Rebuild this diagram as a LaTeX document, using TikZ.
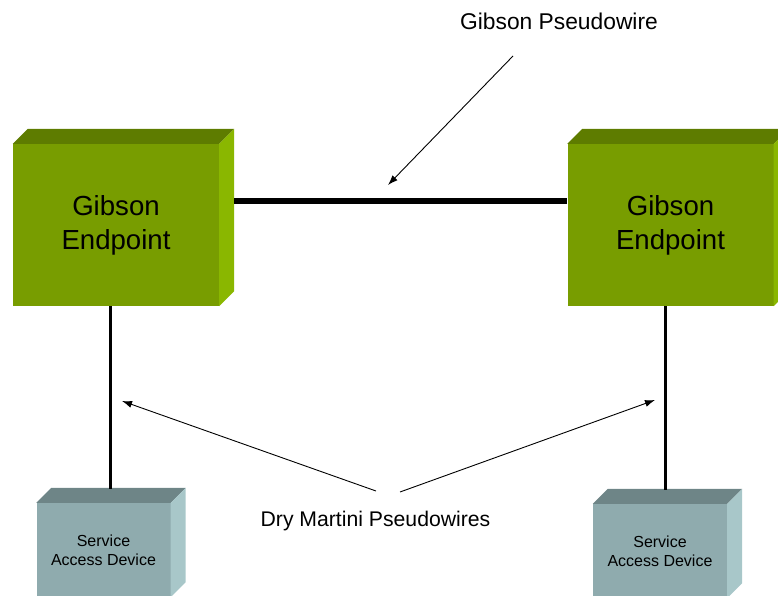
\documentclass[tikz,border=0pt]{standalone}
\usepackage{fontspec}
\setmainfont{Liberation Sans}
\usetikzlibrary{calc,arrows.meta}
\definecolor{epfront}{RGB}{120,157,0}
\definecolor{eptop}{RGB}{94,124,0}
\definecolor{epside}{RGB}{138,183,0}
\definecolor{sdfront}{RGB}{143,171,174}
\definecolor{sdtop}{RGB}{110,133,135}
\definecolor{sdside}{RGB}{168,199,201}
% top and right faces of a box node
\def\boxfaces#1#2#3{%
  \fill[#2] (#1.north west) -- ++(15,-15) -- ($(#1.north east)+(15,-15)$) -- (#1.north east) -- cycle;
  \fill[#3] (#1.north east) -- ++(15,-15) -- ($(#1.south east)+(15,-15)$) -- (#1.south east) -- cycle;}

\begin{document}
\begin{tikzpicture}[x=1pt,y=-1pt,
    endpoint/.style={fill=epfront, inner sep=0, minimum width=206pt, minimum height=162pt, align=center, font=\fontsize{27.6}{34}\selectfont},
    accessdev/.style={fill=sdfront, inner sep=0, minimum width=134pt, minimum height=94pt, align=center, font=\fontsize{16}{19}\selectfont},
    gwire/.style={line width=5.5pt},
    dwire/.style={line width=3pt},
    pointer/.style={line width=0.9pt, -{Latex[length=10pt,width=7pt]}}]
			\useasboundingbox (0,0) rectangle (778,596);
			
			%%%%% boxes %%%%%
			\node[endpoint] (ge1) at (116,225) {Gibson\\Endpoint};
			\node[endpoint] (ge2) at (670.5,225) {Gibson\\Endpoint};
			\boxfaces{ge1}{eptop}{epside}
			\boxfaces{ge2}{eptop}{epside}
			
			\node[accessdev] (sad1) at (103.5,550) {Service\\Access Device};
			\node[accessdev] (sad2) at (660,551) {Service\\Access Device};
			\boxfaces{sad1}{sdtop}{sdside}
			\boxfaces{sad2}{sdtop}{sdside}
			
			%%%%% wires %%%%%
			\draw[gwire] ($(ge1.east)+(15,-24)$) -- ($(ge2.west)+(0,-24)$);
			\draw[dwire] ($(ge1.south)+(-6,0)$) -- ($(sad1.north)+(6.5,-14)$);
			\draw[dwire] ($(ge2.south)+(-5,0)$) -- ($(sad2.north)+(5.5,-14)$);
			
			%%%%% labels %%%%%
			\node[font=\fontsize{22.8}{27}\selectfont] (gpw) at (559,21) {Gibson Pseudowire};
			\node[font=\fontsize{21.2}{25}\selectfont] (dmpw) at (375.5,521) {Dry Martini Pseudowires};
			
			\coordinate (gtail) at (513,56);
			\coordinate (ghead) at (388,185);
			\coordinate (dtail1) at (376,491);
			\coordinate (dhead1) at (122,401);
			\coordinate (dtail2) at (400,492);
			\coordinate (dhead2) at (655,400);
			\draw[pointer] (gtail) -- (ghead);
			\draw[pointer] (dtail1) -- (dhead1);
			\draw[pointer] (dtail2) -- (dhead2);
\end{tikzpicture}
\end{document}
